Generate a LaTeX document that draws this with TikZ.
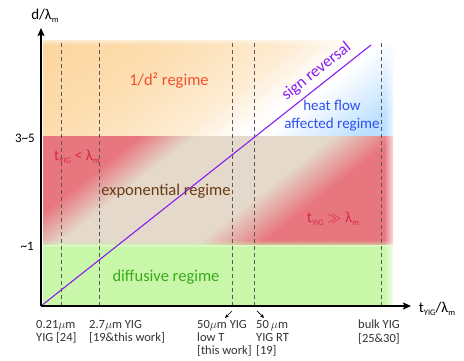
\documentclass[tikz,border=0pt]{standalone}
\usepackage{fontspec}
\setmainfont{Carlito}
\usetikzlibrary{arrows.meta,fadings}
\definecolor{orangeD}{HTML}{FCD49A}
\definecolor{redb}{HTML}{E8767F}
\definecolor{beige}{HTML}{E4D9CA}
\definecolor{greenb}{HTML}{C9F7A9}
\definecolor{blueS}{HTML}{BADFFF}
\definecolor{purp}{HTML}{8A1CF0}
\definecolor{txtorange}{HTML}{F2502C}
\definecolor{txtblue}{HTML}{2E50EE}
\definecolor{txtred}{HTML}{D42A45}
\definecolor{txtbrown}{HTML}{6A3C14}
\definecolor{txtgreen}{HTML}{3AAA1A}
\definecolor{labgray}{HTML}{333333}
\newcommand{\sbs}[1]{\raisebox{-0.35ex}{\fontsize{8.5}{9}\selectfont #1}}
\begin{document}
\begin{tikzpicture}[x=1pt,y=1pt,
  axisline/.style={line width=1.2pt,-{Stealth[length=8pt,width=7pt,inset=1.5pt]}},
  dashline/.style={draw=black!65,line width=0.8pt,dash pattern=on 4pt off 3pt},
  regime/.style={font=\fontsize{16.5}{17}\selectfont,inner sep=0pt},
  xlabel/.style={font=\fontsize{12.5}{13.3}\selectfont,text=labgray,align=left,anchor=north west,inner sep=0pt},
  ticklab/.style={font=\fontsize{13}{15}\selectfont,anchor=east,inner sep=0pt},
  smallarrow/.style={line width=0.7pt,-{Stealth[length=4pt,width=3.5pt]}}]
\useasboundingbox (0,0) rectangle (464,361);

\coordinate (O) at (41,55);
\coordinate (E) at (371,316);
\coordinate (ytip) at (41,333);
\coordinate (xtip) at (411,55);

% orange / white / blue band (colour varies with distance from the diagonal)
\begin{scope}
  \clip (43,224) rectangle (393,320);
  \begin{scope}[shift={(O)},rotate=38.34]
    \foreach \yy in {-100,-98,...,222} {
      \ifdim\yy pt>0pt
        \pgfmathsetmacro\ff{100*max(0,min(1,0.45/42*(\yy-8),0.45+0.35/80*(\yy-50),0.8+0.2/90*(\yy-130)))}
        \draw[draw=orangeD!\ff!white,line width=2.6pt] (-40,\yy) -- (480,\yy);
      \else
        \pgfmathsetmacro\ff{100*max(0,min(1,(-6-\yy)/60))}
        \draw[draw=blueS!\ff!white,line width=2.6pt] (-40,\yy) -- (480,\yy);
      \fi
    }
  \end{scope}
\end{scope}

% red band with beige diagonal strip
\begin{scope}
  \clip (43,116) rectangle (393,224);
  \begin{scope}[shift={(O)},rotate=38.34]
    \foreach \yy in {-180,-178,...,140} {
      \pgfmathsetmacro\ff{100*max(0,min(1,(\yy+88)/40,(72-\yy)/34))}
      \draw[draw=beige!\ff!redb,line width=2.6pt] (-40,\yy) -- (480,\yy);
    }
  \end{scope}
\end{scope}

% green band
\fill[greenb] (43,55) rectangle (393,114);
\fill[greenb, path fading=north] (43,113) rectangle (393,121);

% soft outer edges
\fill[white, path fading=west] (384,55.5) rectangle (396,326);
\fill[white, path fading=south] (43,316) rectangle (396,326);

% dashed reference lines
\foreach \n/\x in {1/61.5,2/99.5,3/232,4/254.5,5/381} {
  \coordinate (d\n t) at (\x,318);
  \coordinate (d\n b) at (\x,55);
  \draw[dashline] (d\n t) -- (d\n b);
}

% sign reversal line
\draw[purp, line width=1.1pt] (O) -- (E);

% axes
\draw[axisline] (O) -- (ytip);
\draw[axisline] (O) -- (xtip);

% axis labels
\node[font=\fontsize{15}{17}\selectfont,inner sep=0pt] (ylab) at (45,345) {d/λ\sbs{m}};
\node[font=\fontsize{15}{17}\selectfont,inner sep=0pt] (xlab) at (437,52) {t\sbs{YIG}/λ\sbs{m}};
\node[ticklab] (t35) at (35,223) {3\textasciitilde 5};
\node[ticklab] (t1) at (34,115) {\textasciitilde 1};

% regime labels
\node[regime,text=txtorange] (r1) at (169,280) {1/d² regime};
\node[regime,text=txtblue,align=center,font=\fontsize{15}{17.3}\selectfont] (hf) at (332,245.5) {heat flow\\affected regime};
\node[regime,text=purp,rotate=38.34] (sr) at (316.5,289.5) {sign reversal};
\node[regime,text=txtred,anchor=west,font=\fontsize{15.5}{17}\selectfont] (tl) at (54,204) {t\sbs{YIG} < λ\sbs{m}};
\node[regime,text=txtbrown] (ex) at (166,170) {exponential regime};
\node[regime,text=txtred,font=\fontsize{15.5}{17}\selectfont] (tg) at (333,142) {t\sbs{YIG} $\gg$ λ\sbs{m}};
\node[regime,text=txtgreen] (df) at (166,84) {diffusive regime};

% bottom labels
\node[xlabel] (l1) at (36,41) {0.21$\mu$m\\YIG [24]};
\node[xlabel] (l2) at (89,41) {2.7$\mu$m YIG\\{[19\&this work]}};
\node[xlabel] (l3) at (197,41) {50$\mu$m YIG\\low T\\{[this work]}};
\node[xlabel] (l4) at (256,41) {50\,$\mu$m\\YIG RT\\{[19]}};
\node[xlabel] (l5) at (358,41) {bulk YIG\\{[25\&30]}};

% small arrows
\coordinate (a3s) at (232,50);
\coordinate (a3e) at (225,43);
\coordinate (a4s) at (257,50);
\coordinate (a4e) at (264,43);
\draw[smallarrow] (a3s) -- (a3e);
\draw[smallarrow] (a4s) -- (a4e);
\end{tikzpicture}
\end{document}
